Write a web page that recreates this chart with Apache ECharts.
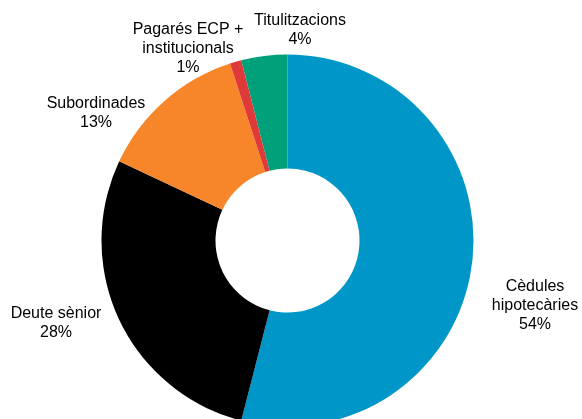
<!DOCTYPE html>
<html>
<head>
<meta charset="utf-8">
<script src="https://cdn.jsdelivr.net/npm/echarts@6/dist/echarts.min.js"></script>
<style>
  html, body { margin: 0; padding: 0; background: #fff; }
  #chart { width: 582px; height: 419px; }
</style>
</head>
<body>
<div id="chart"></div>
<script>
// Funding structure shares (%), clockwise from 12 o'clock
const categories = ['Cèdules\nhipotecàries', 'Deute sènior', 'Subordinades', 'Pagarés ECP +\ninstitucionals', 'Titulitzacions'];
const shares = [54, 28, 13, 1, 4];
const colors = ['#0096C8', '#000000', '#F7862A', '#E0393A', '#00A07A'];
// Label anchor points (centre of each text block)
const labelAnchors = [[535, 306], [56, 323], [96, 113], [188, 49], [300, 30]];

const chart = echarts.init(document.getElementById('chart'));
chart.setOption({
  animation: false,
  series: [{
    type: 'pie',
    center: [287.5, 240.5],
    radius: [72, 186],
    startAngle: 90,
    clockwise: true,
    avoidLabelOverlap: false,
    data: categories.map((name, i) => ({
      name: name,
      value: shares[i],
      itemStyle: { color: colors[i] }
    })),
    label: {
      show: true,
      position: 'outside',
      formatter: p => p.name + '\n' + p.value + '%',
      fontFamily: 'Liberation Sans, Arial, sans-serif',
      fontSize: 16,
      lineHeight: 19,
      color: '#000',
      align: 'center'
    },
    labelLine: { show: false },
    labelLayout: p => ({
      x: labelAnchors[p.dataIndex][0],
      y: labelAnchors[p.dataIndex][1],
      align: 'center',
      verticalAlign: 'middle'
    })
  }]
});
</script>
</body>
</html>
